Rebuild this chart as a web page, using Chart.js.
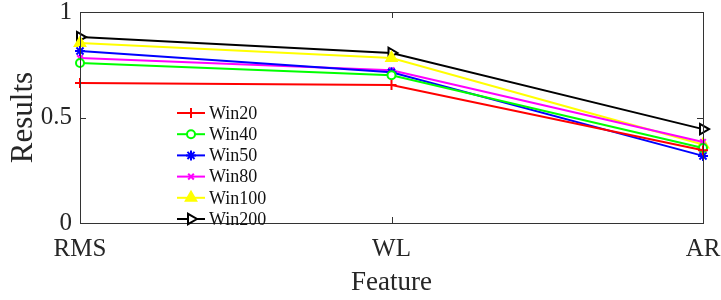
<!DOCTYPE html>
<html>
<head>
<meta charset="utf-8">
<script src="https://cdn.jsdelivr.net/npm/chart.js@4.4.1/dist/chart.umd.min.js"></script>
<style>
  html, body { margin: 0; padding: 0; background: #fff; }
  #wrap { width: 721px; height: 300px; }
</style>
</head>
<body>
<div id="wrap"><canvas id="chart" width="721" height="300"></canvas></div>
<script>
// feature categories and y ticks
const features = ['RMS', 'WL', 'AR'];
const yTicks = [0, 0.5, 1];

// one series per window size
const win20 = [0.663, 0.654, 0.345];
const win40 = [0.758, 0.700, 0.355];
const win50 = [0.815, 0.714, 0.318];
const win80 = [0.782, 0.724, 0.384];
const win100 = [0.853, 0.782, 0.372];
const win200 = [0.881, 0.806, 0.445];

const seriesNames = ['Win20', 'Win40', 'Win50', 'Win80', 'Win100', 'Win200'];
const seriesData = [win20, win40, win50, win80, win100, win200];
const colors = ['#ff0000', '#00ff00', '#0000ff', '#ff00ff', '#ffff00', '#000000'];
const markers = [
  { style: 'cross', radius: 5, fill: '#ff0000', rot: 0 },
  { style: 'circle', radius: 4, fill: '#ffffff', rot: 0 },
  { style: 'star', radius: 5, fill: '#0000ff', rot: 0 },
  { style: 'crossRot', radius: 4, fill: '#ff00ff', rot: 0 },
  { style: 'triangle', radius: 6, fill: '#ffff00', rot: 0 },
  { style: 'triangle', radius: 6, fill: '#ffffff', rot: 90 }
];

const AXIS = '#333333';
const SERIF = "'Liberation Serif', 'DejaVu Serif', serif";

const datasets = seriesNames.map((name, i) => ({
  label: name,
  data: seriesData[i],
  borderColor: colors[i],
  backgroundColor: markers[i].fill,
  borderWidth: 2,
  pointStyle: markers[i].style,
  pointRadius: markers[i].radius,
  pointRotation: markers[i].rot,
  pointBorderWidth: 2,
  pointBorderColor: colors[i],
  pointBackgroundColor: markers[i].fill,
  tension: 0,
  clip: false
}));

// box + inward tick marks, matlab style
const framePlugin = {
  id: 'frame',
  afterDatasetsDraw(chart) {
    const { ctx, chartArea: a, scales } = chart;
    ctx.save();
    ctx.strokeStyle = AXIS;
    ctx.lineWidth = 1;
    ctx.strokeRect(Math.round(a.left) + 0.5, Math.round(a.top) + 0.5,
      Math.round(a.right - a.left), Math.round(a.bottom - a.top));
    const len = 6;
    ctx.beginPath();
    yTicks.forEach(v => {
      const y = Math.round(scales.y.getPixelForValue(v)) + 0.5;
      ctx.moveTo(a.left, y); ctx.lineTo(a.left + len, y);
      ctx.moveTo(a.right, y); ctx.lineTo(a.right - len, y);
    });
    features.forEach((f, i) => {
      const x = Math.round(scales.x.getPixelForValue(i)) + 0.5;
      ctx.moveTo(x, a.bottom); ctx.lineTo(x, a.bottom - len);
      ctx.moveTo(x, a.top); ctx.lineTo(x, a.top + len);
    });
    ctx.stroke();
    ctx.restore();
  }
};

// legend with line + marker, no box
const legendPlugin = {
  id: 'lineLegend',
  afterDraw(chart) {
    const { ctx } = chart;
    const x0 = 177, x1 = 205, textX = 209;
    let y = 113;
    ctx.save();
    ctx.font = '18px ' + SERIF;
    ctx.textBaseline = 'middle';
    chart.data.datasets.forEach(ds => {
      ctx.strokeStyle = ds.borderColor;
      ctx.lineWidth = 2;
      ctx.beginPath();
      ctx.moveTo(x0, y); ctx.lineTo(x1, y);
      ctx.stroke();
      ctx.fillStyle = ds.pointBackgroundColor;
      ctx.strokeStyle = ds.pointBorderColor;
      ctx.lineWidth = 2;
      Chart.helpers.drawPoint(ctx, {
        pointStyle: ds.pointStyle,
        radius: ds.pointRadius,
        rotation: ds.pointRotation,
        borderWidth: 2
      }, (x0 + x1) / 2, y);
      ctx.fillStyle = '#111';
      ctx.fillText(ds.label, textX, y + 1);
      y += 21.2;
    });
    ctx.restore();
  }
};

new Chart(document.getElementById('chart'), {
  type: 'line',
  data: { labels: features, datasets: datasets },
  plugins: [framePlugin, legendPlugin],
  options: {
    responsive: false,
    animation: false,
    devicePixelRatio: 1,
    layout: { padding: { top: 12, right: 18, left: 0, bottom: 0 } },
    plugins: { legend: { display: false }, tooltip: { enabled: false } },
    scales: {
      x: {
        type: 'category',
        offset: false,
        grid: { display: false, drawTicks: false },
        border: { display: false },
        ticks: { color: '#262626', font: { family: SERIF, size: 25 }, padding: 11, maxRotation: 0, autoSkip: false },
        title: { display: true, text: 'Feature', color: '#262626', font: { family: SERIF, size: 27 }, padding: { top: 0, bottom: 1 } },
        afterFit(scale) {
          scale.height = 77;
          scale.paddingLeft = 0;
          scale.paddingRight = 0;
        }
      },
      y: {
        min: 0,
        max: 1,
        grid: { display: false, drawTicks: false },
        border: { display: false },
        afterBuildTicks(scale) { scale.ticks = yTicks.map(v => ({ value: v })); },
        ticks: {
          color: '#262626',
          font: { family: SERIF, size: 25 },
          padding: 8,
          callback: v => String(v)
        },
        title: { display: true, text: 'Results', color: '#262626', font: { family: SERIF, size: 31 }, padding: { top: 5, bottom: 0 } },
        afterFit(scale) {
          scale.width = 80;
          scale.paddingTop = 0;
          scale.paddingBottom = 0;
        }
      }
    }
  }
});
</script>
</body>
</html>
